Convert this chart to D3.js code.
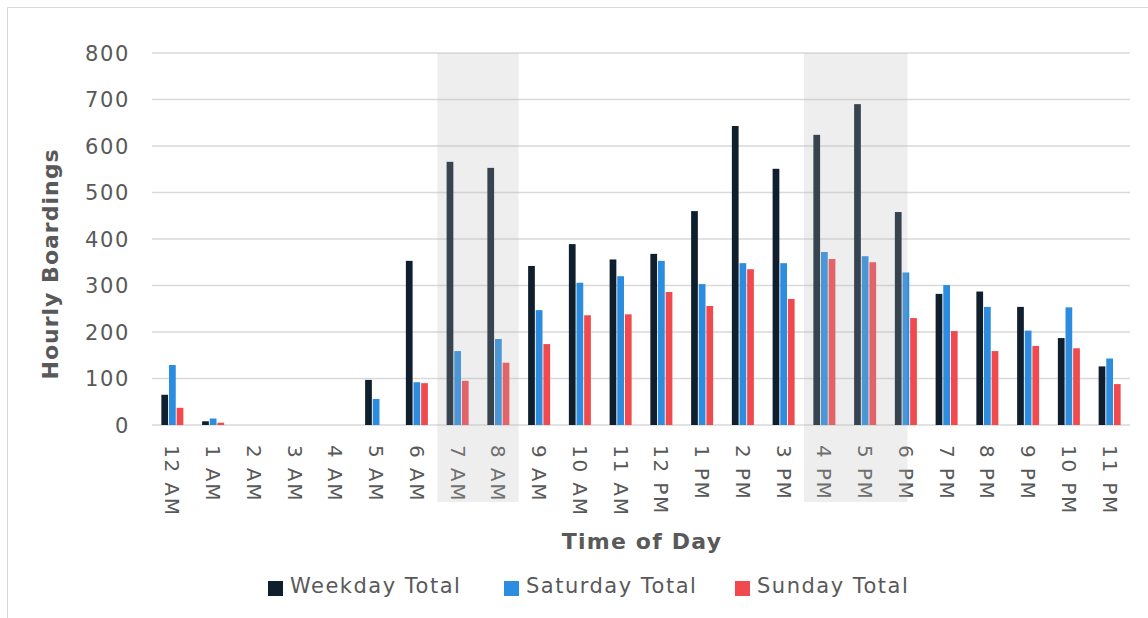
<!DOCTYPE html>
<html>
<head>
<meta charset="utf-8">
<script src="https://cdn.jsdelivr.net/npm/d3@7"></script>
<style>
  body { margin: 0; background: #fff; }
  svg text { font-family: "DejaVu Sans", sans-serif; fill: #595959; }
</style>
</head>
<body>
<div id="chart"></div>
<script>
const width = 1148, height = 618;

// hours on the x axis
const hours = ["12 AM","1 AM","2 AM","3 AM","4 AM","5 AM","6 AM","7 AM","8 AM","9 AM","10 AM","11 AM",
  "12 PM","1 PM","2 PM","3 PM","4 PM","5 PM","6 PM","7 PM","8 PM","9 PM","10 PM","11 PM"];

// hourly boardings
const weekday  = [65, 8, 0, 0, 0, 97, 353, 566, 553, 342, 389, 356, 368, 460, 643, 551, 624, 690, 458, 282, 287, 254, 187, 126];
const saturday = [129, 14, 0, 0, 0, 56, 92, 159, 185, 247, 306, 320, 353, 303, 348, 348, 372, 363, 328, 301, 254, 203, 253, 143];
const sunday   = [37, 5, 0, 0, 0, 0, 90, 95, 134, 174, 236, 238, 286, 256, 335, 271, 357, 350, 230, 202, 159, 170, 165, 88];

const seriesNames = ["Weekday Total", "Saturday Total", "Sunday Total"];
const seriesColors = ["#0f1f2e", "#2b8ce0", "#f04a4f"];
const yTicks = [0, 100, 200, 300, 400, 500, 600, 700, 800];

// peak periods that get a grey band
const peaks = [["7 AM", "8 AM"], ["4 PM", "6 PM"]];

const rows = hours.map(function(h, i){
  return { hour: h, vals: [weekday[i], saturday[i], sunday[i]] }
});

const plot = { left: 152, right: 1130, top: 53, bottom: 425 };

const x = d3.scaleBand().domain(hours).range([plot.left, plot.right]).padding(0);
const y = d3.scaleLinear().domain([0, 800]).range([plot.bottom, plot.top]);

const groupW = x.bandwidth() * 0.54;
const x1 = d3.scaleBand().domain(d3.range(3)).range([0, groupW]).paddingInner(0.12);

const svg = d3.select("#chart").append("svg")
  .attr("width", width).attr("height", height);

// outer frame (only top & left show up in the crop)
svg.append("path")
  .attr("d", "M7.5,618 V7.5 H1148")
  .attr("fill", "none").attr("stroke", "#d9d9d9").attr("stroke-width", 1);

// gridlines
svg.append("g").selectAll("line")
  .data(yTicks)
  .join("line")
  .attr("x1", plot.left).attr("x2", plot.right)
  .attr("y1", d => y(d)).attr("y2", d => y(d))
  .attr("stroke", "#d9d9d9").attr("stroke-width", 1.5);

// y axis labels
const yAxis = svg.append("g")
  .attr("transform", "translate(" + 130 + ",0)")
  .call(d3.axisLeft(y).tickValues(yTicks).tickSize(0).tickPadding(0));
yAxis.select(".domain").remove();
yAxis.selectAll("text")
  .style("font-size", "21px").style("letter-spacing", "1.6px")
  .attr("fill", "#595959").attr("dy", "0.35em");

// bars
const groups = svg.append("g").selectAll("g")
  .data(rows)
  .join("g")
  .attr("transform", d => "translate(" + (x(d.hour) + (x.bandwidth() - groupW) / 2) + ",0)");

groups.selectAll("rect")
  .data(d => d.vals)
  .join("rect")
  .attr("x", (d, i) => x1(i))
  .attr("width", x1.bandwidth())
  .attr("y", d => y(d))
  .attr("height", d => y(0) - y(d))
  .attr("fill", (d, i) => seriesColors[i]);

// x axis labels, rotated to read downward
svg.append("g").selectAll("text")
  .data(hours)
  .join("text")
  .attr("transform", d => "translate(" + (x(d) + x.bandwidth() / 2) + "," + 445 + ") rotate(90)")
  .attr("dy", "0.35em")
  .style("font-size", "20px").style("letter-spacing", "1.8px")
  .text(d => d);

// grey peak bands drawn over the bars
svg.append("g").selectAll("rect")
  .data(peaks)
  .join("rect")
  .attr("x", d => x(d[0]))
  .attr("width", d => {
    // the evening band stops partway into its last hour
    let end = d[1] == "6 PM" ? x(d[1]) + x.bandwidth() * 0.54 : x(d[1]) + x.bandwidth();
    return end - x(d[0]);
  })
  .attr("y", plot.top)
  .attr("height", 502 - plot.top)
  .attr("fill", "rgb(184,184,184)")
  .attr("fill-opacity", 0.24);

// axis titles
svg.append("text")
  .attr("transform", "translate(58," + 264 + ") rotate(-90)")
  .attr("text-anchor", "middle")
  .style("font-size", "22px").style("font-weight", "bold").style("letter-spacing", "1px")
  .text("Hourly Boardings");

svg.append("text")
  .attr("x", 642).attr("y", 549)
  .attr("text-anchor", "middle")
  .style("font-size", "22px").style("font-weight", "bold").style("letter-spacing", "1.2px")
  .text("Time of Day");

// legend
const legendX = [268, 504, 735];
const legend = svg.append("g").selectAll("g")
  .data(seriesNames)
  .join("g")
  .attr("transform", (d, i) => "translate(" + legendX[i] + ",587)");

legend.append("rect")
  .attr("x", 0).attr("y", -6).attr("width", 15).attr("height", 15)
  .attr("fill", (d, i) => seriesColors[i]);

legend.append("text")
  .attr("x", 22).attr("dy", "0.3em")
  .style("font-size", "21px").style("letter-spacing", "1.5px")
  .text(d => d);
</script>
</body>
</html>
